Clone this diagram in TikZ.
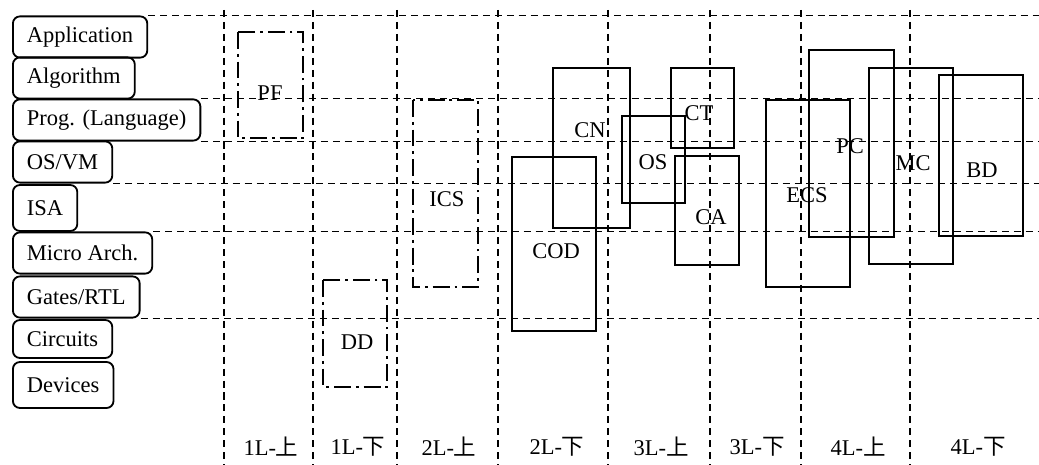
\documentclass[tikz,border=0pt]{standalone}
\usepackage{fontspec}
\setmainfont{Liberation Serif}
\newfontfamily\cjk{Noto Sans CJK SC}
\usepackage{tikz}
\usetikzlibrary{calc}

\begin{document}
\begin{tikzpicture}[x={(0.025cm,0)},y={(0,-0.025cm)},
    font=\fontsize{16}{18}\selectfont,
    layerbox/.style={draw, line width=1.3pt, rounded corners=5pt, anchor=west,
        minimum height=1.03cm, inner xsep=10pt},
    gridline/.style={line width=0.9pt, dash pattern=on 5pt off 3.5pt},
    dashbox/.style={line width=2pt, dash pattern=on 12pt off 3.5pt on 2pt off 3.5pt},
    thickbox/.style={line width=2pt},
    thinbox/.style={line width=1.2pt}]
        \useasboundingbox (0,0) rectangle (1039,465);
        \coordinate (E) at (1039,0);

        % layers
        \node[layerbox](app) at (12,37){Application};
        \node[layerbox](alg) at (12,78){Algorithm};
        \node[layerbox](prog) at (12,120){Prog. (Language)};
        \node[layerbox](osvm) at (12,162){OS/VM};
        \node[layerbox, minimum height=1.15cm](isa) at (12,208){ISA};
        \node[layerbox](march) at (12,253){Micro Arch.};
        \node[layerbox](rtl) at (12,297){Gates/RTL};
        \node[layerbox, minimum height=0.95cm](circ) at (12,339){Circuits};
        \node[layerbox, minimum height=1.15cm](dev) at (12,385){Devices};

        % grid
        \draw[gridline] (app.north east) -- (app.north east -| E);
        \draw[gridline] (prog.north east) -- (prog.north east -| E);
        \draw[gridline] (prog.south east) -- (prog.south east -| E);
        \draw[gridline] (osvm.south east) -- (osvm.south east -| E);
        \draw[gridline] (march.north east) -- (march.north east -| E);
        \draw[gridline] (rtl.south east) -- (rtl.south east -| E);
        \foreach \x in {224,313,397,498,608,710,801,910}
            \draw[gridline] (\x,10) -- (\x,465);

        % courses
        \draw[dashbox] (238,32) rectangle (303,138);
        \draw[dashbox] (323,280) rectangle (387,387);
        \draw[dashbox] (413,100) rectangle (478,287);
        \draw[thinbox] (512,157) rectangle (596,331);
        \draw[thickbox] (553,68) rectangle (630,228);
        \draw[thinbox] (622,116) rectangle (685,203);
        \draw[thinbox] (671,68) rectangle (734,148);
        \draw[thinbox] (675,156) rectangle (739,265);
        \draw[thickbox] (766,100) rectangle (850,287);
        \draw[thickbox] (809,50) rectangle (894,237);
        \draw[thickbox] (869,68) rectangle (953,264);
        \draw[thickbox] (939,75) rectangle (1023,236);

        \node(PF) at (270,93){PF};
        \node(DD) at (357,342){DD};
        \node(ICS) at (447,199){ICS};
        \node(COD) at (556,251){COD};
        \node(CN) at (590,130){CN};
        \node(OS) at (653,162){OS};
        \node(CT) at (699,113){CT};
        \node(CA) at (711,217){CA};
        \node(ECS) at (807,195){ECS};
        \node(PC) at (850,146){PC};
        \node(MC) at (913,163){MC};
        \node(BD) at (982,170){BD};

        % semesters
        \node(s1) at (271,447){1L-{\cjk 上}};
        \node(s2) at (358,447){1L-{\cjk 下}};
        \node(s3) at (449,447){2L-{\cjk 上}};
        \node(s4) at (557,447){2L-{\cjk 下}};
        \node(s5) at (661,447){3L-{\cjk 上}};
        \node(s6) at (757,447){3L-{\cjk 下}};
        \node(s7) at (858,447){4L-{\cjk 上}};
        \node(s8) at (978,447){4L-{\cjk 下}};

      \end{tikzpicture}
\end{document}
